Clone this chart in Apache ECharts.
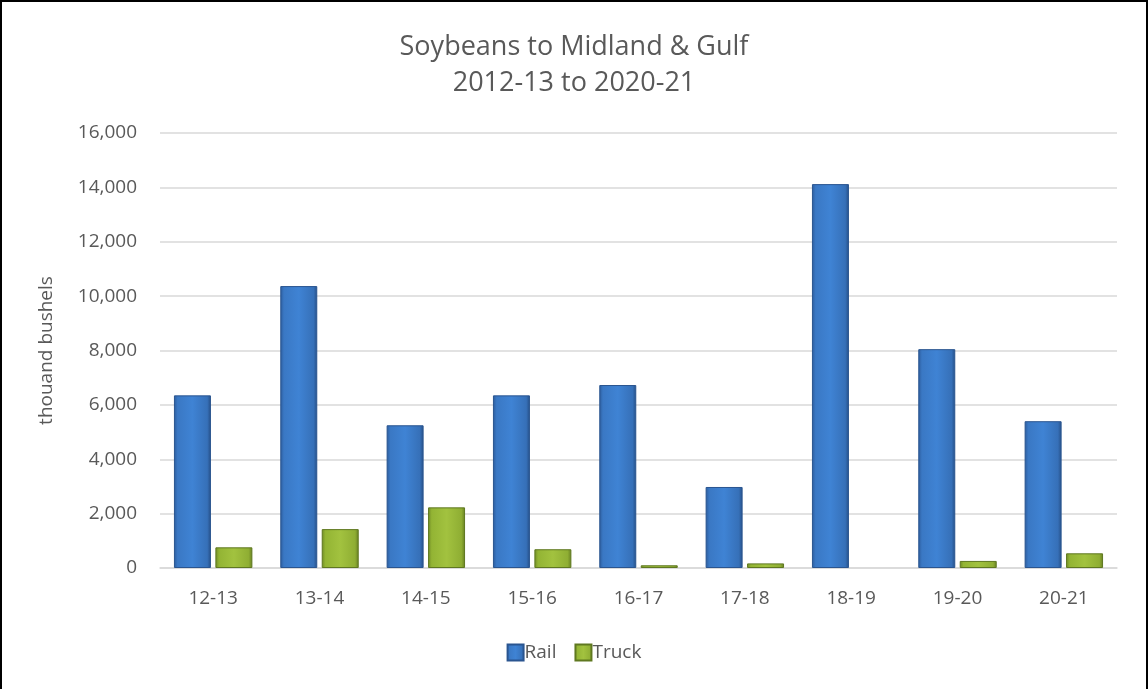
<!DOCTYPE html>
<html>
<head>
<meta charset="utf-8">
<script src="https://cdn.jsdelivr.net/npm/echarts@6/dist/echarts.min.js"></script>
<style>
html,body{margin:0;padding:0;background:#fff;}
#frame{position:absolute;left:0;top:0;width:1144px;height:689px;border-left:2px solid #000;border-top:2px solid #000;border-right:2px solid #000;box-sizing:content-box;}
#chart{position:absolute;left:0;top:0;width:1148px;height:689px;}
</style>
</head>
<body>
<div id="chart"></div>
<div id="frame"></div>
<script>
const categories = ['12-13','13-14','14-15','15-16','16-17','17-18','18-19','19-20','20-21'];
const railValues = [6350, 10370, 5250, 6350, 6730, 2980, 14120, 8050, 5400];
const truckValues = [760, 1430, 2230, 690, 100, 170, 0, 260, 540];
const yTicks = [0, 2000, 4000, 6000, 8000, 10000, 12000, 14000, 16000];

const font = 'Open Sans';
const txt = '#595959';
const blueGrad = new echarts.graphic.LinearGradient(0,0,1,0,[
  {offset:0,color:'#2c5c9c'},{offset:0.1,color:'#3a78c4'},{offset:0.5,color:'#3f83d4'},{offset:0.9,color:'#3670b8'},{offset:1,color:'#264f86'}]);
const greenGrad = new echarts.graphic.LinearGradient(0,0,1,0,[
  {offset:0,color:'#6f8a25'},{offset:0.1,color:'#93b434'},{offset:0.5,color:'#a2c23f'},{offset:0.9,color:'#8fae33'},{offset:1,color:'#677f22'}]);

const truckData = truckValues.map(v => v === 0 ? {value:v, itemStyle:{borderWidth:0}} : v);

const chart = echarts.init(document.getElementById('chart'), null, {renderer:'canvas'});
chart.setOption({
  animation:false,
  title:{
    text:'Soybeans to Midland & Gulf\n2012-13 to 2020-21',
    left:'center', top:24,
    textStyle:{fontFamily:font,fontSize:27,fontWeight:'normal',color:txt,lineHeight:36}
  },
  legend:{
    bottom:22, left:'center',
    itemWidth:16,itemHeight:16,itemGap:18,
    icon:'rect',
    textStyle:{fontFamily:font,fontSize:19,color:txt,padding:[0,0,0,-4]},
    data:['Rail','Truck']
  },
  grid:{left:160,right:31,top:133,bottom:121},
  xAxis:{
    type:'category', data:categories,
    axisLine:{lineStyle:{color:'#d9d9d9',width:1.5}},
    axisTick:{show:false},
    axisLabel:{fontFamily:font,fontSize:19,color:txt,margin:21}
  },
  yAxis:{
    type:'value', min:0, max:16000, interval:2000,
    name:'thouand bushels', nameLocation:'middle', nameGap:104, nameRotate:90,
    nameTextStyle:{fontFamily:font,fontSize:19,color:txt},
    axisLine:{show:false}, axisTick:{show:false},
    splitLine:{lineStyle:{color:'#d9d9d9',width:1.5}},
    axisLabel:{fontFamily:font,fontSize:19,color:txt,margin:23,
      formatter:v=>v.toLocaleString('en-US')}
  },
  series:[
    {name:'Rail',type:'bar',data:railValues,barWidth:37,barGap:'12%',
     itemStyle:{color:blueGrad,borderColor:'#2a5590',borderWidth:1}},
    {name:'Truck',type:'bar',data:truckData,barWidth:37,
     itemStyle:{color:greenGrad,borderColor:'#5f7820',borderWidth:1}}
  ]
});
</script>
</body>
</html>
